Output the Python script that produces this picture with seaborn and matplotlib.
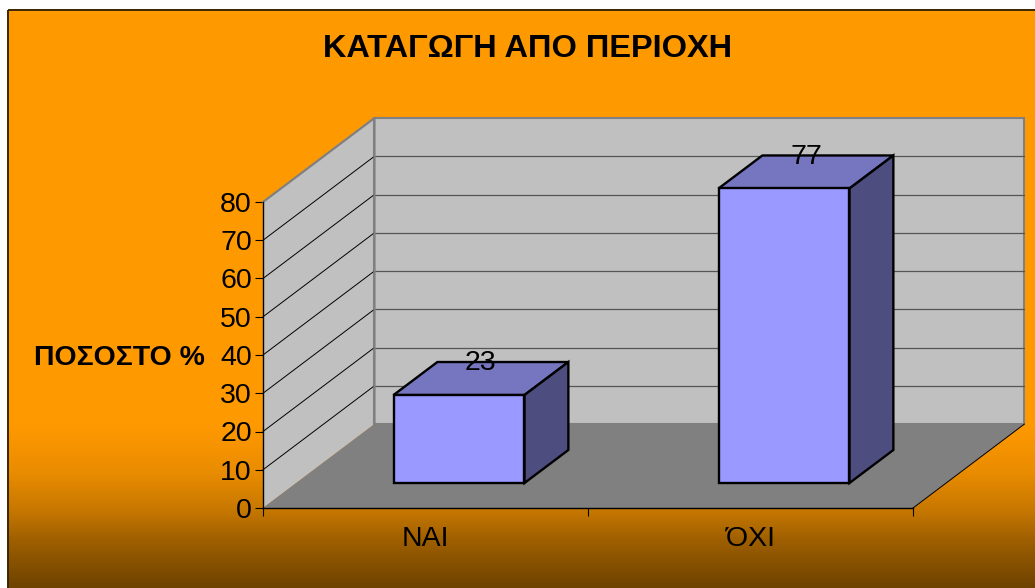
import numpy as np
import pandas as pd
import seaborn as sns
from matplotlib import pyplot as plt
from matplotlib.patches import Polygon, Rectangle

categories = ['ΝΑΙ', 'ΌΧΙ']
values = [23, 77]
y_ticks = [0, 10, 20, 30, 40, 50, 60, 70, 80]
title = 'ΚΑΤΑΓΩΓΗ ΑΠΟ ΠΕΡΙΟΧΗ'
y_label = 'ΠΟΣΟΣΤΟ %'

sns.set_style('white')
plt.rcParams['font.family'] = ['Liberation Sans', 'DejaVu Sans']
plt.rcParams['text.color'] = 'black'
plt.rcParams['axes.labelcolor'] = 'black'
plt.rcParams['xtick.labelcolor'] = 'black'
plt.rcParams['ytick.labelcolor'] = 'black'

W, H = 1035, 588
fig = plt.figure(figsize = (W / 100, H / 100), dpi = 100, facecolor = 'white')

# background panel with the gradient at the bottom
bg = fig.add_axes([0, 0, 1, 1], zorder = 0)
rows = np.arange(H)
shade = np.interp(rows, [425, 470, 510, 540, 588], [1., 0.92, 0.78, 0.62, 0.43])
grad = np.outer(shade, np.array([255, 153, 0])).astype(np.uint8)[:, None, :]
bg.imshow(grad, extent = (0, W, H, 0), aspect = 'auto')
bg.set(xlim = (0, W), ylim = (H, 0))
bg.add_patch(Rectangle((0, 0), W, 10, facecolor = 'white', edgecolor = 'none'))
bg.add_patch(Rectangle((0, 0), 8, H, facecolor = 'white', edgecolor = 'none'))
bg.add_patch(Rectangle((8, 10), W, H, facecolor = 'none', edgecolor = '#3a2600', lw = 1.4))
bg.axis('off')

# front plane of the chart box
left, base, box_w, box_h = 263, 508, 650, 306
ax = fig.add_axes([left / W, (H - base) / H, box_w / W, box_h / H], zorder = 1)
ax.patch.set_visible(False)
ax.set(xlim = (-0.5, 1.5), ylim = (0, 80))
depth_x, depth_y = 0.343, 21.96   # wall depth in data units
x0, x1, top = -0.5, 1.5, 80

ax.add_patch(Polygon([(x0, 0), (x0 + depth_x, depth_y), (x0 + depth_x, top + depth_y), (x0, top)],
                     facecolor = '#c0c0c0', edgecolor = 'none', clip_on = False, zorder = 0.5))
ax.add_patch(Rectangle((x0 + depth_x, depth_y), x1 - x0, top,
                       facecolor = '#c0c0c0', edgecolor = '#808080', lw = 1.5, clip_on = False, zorder = 0.6))
ax.add_patch(Polygon([(x0, 0), (x1, 0), (x1 + depth_x, depth_y), (x0 + depth_x, depth_y)],
                     facecolor = '#808080', edgecolor = 'none', clip_on = False, zorder = 0.7))
for t in y_ticks[1:-1]:
    ax.plot([x0, x0 + depth_x], [t, t + depth_y], color = 'black', lw = 0.7, clip_on = False, zorder = 0.8)
    ax.plot([x0 + depth_x, x1 + depth_x], [t + depth_y, t + depth_y], color = '#555555', lw = 0.9,
            clip_on = False, zorder = 0.8)
ax.plot([x0, x0 + depth_x, x0 + depth_x], [top, top + depth_y, depth_y], color = '#808080', lw = 1.6,
        clip_on = False, zorder = 0.85)
ax.plot([x1, x1 + depth_x], [0, depth_y], color = 'black', lw = 0.7, clip_on = False, zorder = 0.85)

sns.despine(ax = ax)
ax.spines[['left', 'bottom']].set_color('black')
ax.spines[['left', 'bottom']].set_linewidth(1.0)
ax.set_yticks(y_ticks)
ax.set_xticks([-0.5, 0.5, 1.5], labels = ['', '', ''])
ax.set_xticks([0, 1], labels = categories, minor = True)
ax.tick_params(axis = 'y', left = True, length = 6, width = 0.8, labelsize = 20.5, pad = 2, color = 'black')
ax.tick_params(axis = 'x', which = 'major', bottom = True, length = 5.5, width = 0.8, color = 'black')
ax.tick_params(axis = 'x', which = 'minor', bottom = False, length = 0, labelsize = 20.5, pad = 13)
ax.set_ylabel(y_label, rotation = 0, fontsize = 20.4, fontweight = 'bold', ha = 'center', va = 'center')
ax.yaxis.set_label_coords(-0.221, 0.49)
fig.text(527.5 / W, 1 - 49 / H, title, fontsize = 23.4, fontweight = 'bold', ha = 'center', va = 'center')

# bars sit part way into the box, so they get their own shifted axes
bar_ax = fig.add_axes([(left + 33.5) / W, (H - base + 25) / H, box_w / W, box_h / H], zorder = 2)
df = pd.DataFrame({'category': categories, 'value': values})
sns.barplot(x = 'category', y = 'value', data = df, ax = bar_ax, width = 0.403,
            color = '#9999ff', saturation = 1, edgecolor = 'black', linewidth = 1.7, zorder = 3)
bar_ax.set(xlim = (-0.5, 1.5), ylim = (0, 80))
bar_ax.axis('off')

bar_dx, bar_dy = 0.135, 8.63
for p, v in zip(list(bar_ax.patches), values):
    p.set_clip_on(False)
    a, b = p.get_x(), p.get_x() + p.get_width()
    bar_ax.add_patch(Polygon([(a, v), (b, v), (b + bar_dx, v + bar_dy), (a + bar_dx, v + bar_dy)],
                             facecolor = '#7676c0', edgecolor = 'black', lw = 1.7,
                             joinstyle = 'miter', clip_on = False, zorder = 2))
    bar_ax.add_patch(Polygon([(b, 0), (b + bar_dx, bar_dy), (b + bar_dx, v + bar_dy), (b, v)],
                             facecolor = '#4d4d80', edgecolor = 'black', lw = 1.7,
                             joinstyle = 'miter', clip_on = False, zorder = 2))
    bar_ax.text((a + b) / 2 + bar_dx / 2, v + bar_dy - 0.3, str(v), fontsize = 20.5, ha = 'center',
                va = 'center', clip_on = False, zorder = 5)

fig.savefig('out.png', dpi = 100)
